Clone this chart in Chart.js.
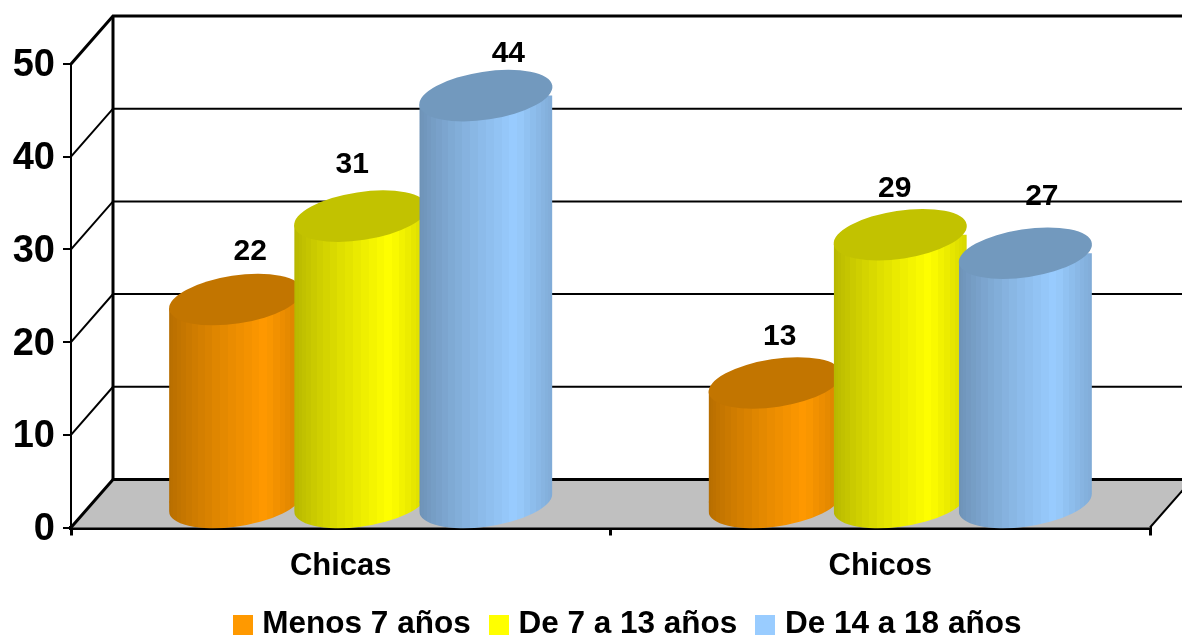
<!DOCTYPE html>
<html>
<head>
<meta charset="utf-8">
<style>html,body{margin:0;padding:0;background:#fff}#wrap{width:1182px;height:637px}</style>
<script src="https://cdn.jsdelivr.net/npm/chart.js@4/dist/chart.umd.min.js"></script>
</head>
<body>
<div id="wrap"><canvas id="c" width="1182" height="637"></canvas></div>
<script>
const categories = ['Chicas', 'Chicos'];
const seriesNames = ['Menos 7 años', 'De 7 a 13 años', 'De 14 a 18 años'];
const menos7 = [22, 13];
const de7a13 = [31, 29];
const de14a18 = [44, 27];
const axisMax = 50;
const axisStep = 10;

const baseColors = [[255, 153, 0], [255, 255, 0], [153, 204, 255]];
const topColors = ['#c27500', '#c2c200', '#7299be'];
const FONT = '"Liberation Sans", Arial, sans-serif';

/* perspective of the 3-D box */
const depthX = 42, depthY = 48;
const shiftX = 20, shiftY = 24;
const tilt = -0.15, minor = 24;

/* hand placement of the value labels, relative to each cylinder top */
const labelNudgeX = [[14.5, 4.5], [-8.5, -5.5], [22.5, 16.5]];
const labelNudgeY = [[-48, -46], [-51, -46], [-42, -56]];

function shade(c, k) { return 'rgb(' + c.map(v => Math.round(v * k)).join(',') + ')'; }
function brightness(f) {
  return f < 0.72 ? 0.71 + 0.29 * Math.pow(f / 0.72, 0.8) : 1 - 0.16 * ((f - 0.72) / 0.28);
}
function bandGradient(ctx, left, right, color) {
  const g = ctx.createLinearGradient(left, 0, right, 0);
  const n = 26;
  for (let i = 0; i < n; i++) {
    const a = (1 - Math.cos(Math.PI * i / n)) / 2;
    const b = (1 - Math.cos(Math.PI * (i + 1) / n)) / 2;
    const col = shade(color, brightness((a + b) / 2));
    g.addColorStop(a, col);
    g.addColorStop(b, col);
  }
  return g;
}
function barBox(chart, dsIndex, idx) {
  const x = chart.scales.x;
  const slot = x.width / categories.length;
  const step = slot * 0.6957 / 3;
  const w = step * 1.064;
  const cx = x.getPixelForValue(idx) + (dsIndex - 1) * step;
  return { left: cx - w / 2, right: cx + w / 2, width: w, cx };
}
function barFill(dsIndex) {
  return c => {
    if (c.type !== 'data' || !c.chart.scales.x || !Number.isFinite(c.dataIndex)) return shade(baseColors[dsIndex], 1);
    const b = barBox(c.chart, dsIndex, c.dataIndex);
    if (!Number.isFinite(b.left) || !Number.isFinite(b.right)) return shade(baseColors[dsIndex], 1);
    return bandGradient(c.chart.ctx, b.left, b.right, baseColors[dsIndex]);
  };
}
function extremes(w) {
  const major = w / 2 / Math.sqrt(Math.cos(tilt) ** 2 + (minor / (w / 2)) ** 2 * Math.sin(tilt) ** 2);
  const t0 = Math.atan2(-minor * Math.sin(tilt), major * Math.cos(tilt));
  const dy = major * Math.cos(t0) * Math.sin(tilt) + minor * Math.sin(t0) * Math.cos(tilt);
  return { major, t0, dy };
}

const box3d = {
  id: 'box3d',
  afterLayout(chart) {
    const lg = chart.legend;
    const h = lg.bottom - lg.top;
    lg.top = 585;
    lg.bottom = 585 + h;
    lg.left += 55;
    lg.right += 55;
  },
  beforeDatasetsDraw(chart) {
    const ctx = chart.ctx, xs = chart.scales.x, ys = chart.scales.y;
    const L = xs.left, R = xs.right, y0 = ys.getPixelForValue(0);
    /* floor */
    ctx.save();
    ctx.fillStyle = '#c0c0c0';
    ctx.beginPath();
    ctx.moveTo(L, y0); ctx.lineTo(L + depthX, y0 - depthY);
    ctx.lineTo(R + depthX, y0 - depthY); ctx.lineTo(R, y0); ctx.closePath();
    ctx.fill();
    ctx.strokeStyle = '#000';
    ctx.lineWidth = 2;
    ctx.beginPath();
    ctx.moveTo(R, y0); ctx.lineTo(R + depthX, y0 - depthY);
    ctx.stroke();
    /* side and back walls */
    for (let v = 0; v <= axisMax; v += axisStep) {
      const y = ys.getPixelForValue(v);
      ctx.lineWidth = (v === 0 || v === axisMax) ? 3 : 2;
      ctx.beginPath();
      ctx.moveTo(L, y); ctx.lineTo(L + depthX, y - depthY); ctx.lineTo(R + depthX, y - depthY);
      ctx.stroke();
    }
    ctx.lineWidth = 3;
    ctx.beginPath();
    ctx.moveTo(L + depthX, ys.getPixelForValue(axisMax) - depthY);
    ctx.lineTo(L + depthX, y0 - depthY);
    ctx.stroke();
    ctx.restore();

    /* cylinders, painted in series order so later series overlap earlier ones */
    chart.data.datasets.forEach((ds, i) => {
      const meta = chart.getDatasetMeta(i);
      ctx.save();
      ctx.translate(shiftX, -shiftY);
      ctx.save();
      ctx.beginPath();
      meta.data.forEach(el => {
        const w = el.width, e = extremes(w);
        ctx.moveTo(el.x + w / 2, el.base + e.dy);
        ctx.ellipse(el.x, el.base, e.major, minor, tilt, e.t0, e.t0 + Math.PI);
        ctx.lineTo(el.x - w / 2, el.y - e.dy);
        ctx.lineTo(el.x + w / 2, el.y + e.dy);
        ctx.closePath();
      });
      ctx.clip();
      meta.data.forEach(el => {
        ctx.fillStyle = el.options.backgroundColor;
        ctx.fillRect(el.x - el.width / 2, el.base - 1, el.width, minor + 6);
      });
      meta.controller.draw();
      ctx.restore();
      meta.data.forEach(el => {
        const e = extremes(el.width);
        ctx.fillStyle = topColors[i];
        ctx.beginPath();
        ctx.ellipse(el.x, el.y, e.major, minor, tilt, 0, Math.PI * 2);
        ctx.fill();
      });
      ctx.restore();
    });

    /* value labels */
    ctx.save();
    ctx.fillStyle = '#000';
    ctx.font = 'bold 30px ' + FONT;
    ctx.textAlign = 'center';
    ctx.textBaseline = 'middle';
    chart.data.datasets.forEach((ds, i) => {
      chart.getDatasetMeta(i).data.forEach((el, j) => {
        ctx.fillText(String(ds.data[j]),
          el.x + shiftX + labelNudgeX[i][j],
          el.y - shiftY + labelNudgeY[i][j]);
      });
    });
    ctx.restore();
    return false;
  }
};

const swatches = baseColors.map(c => {
  const s = document.createElement('canvas');
  s.width = 20; s.height = 20;
  const g = s.getContext('2d');
  g.fillStyle = shade(c, 1);
  g.fillRect(0, 0, 20, 20);
  return s;
});

new Chart(document.getElementById('c'), {
  type: 'bar',
  plugins: [box3d],
  data: {
    labels: categories,
    datasets: [menos7, de7a13, de14a18].map((values, i) => ({
      label: seriesNames[i],
      data: values,
      backgroundColor: barFill(i),
      borderWidth: 0,
      categoryPercentage: 0.6957,
      barPercentage: 1.064
    }))
  },
  options: {
    responsive: false,
    animation: false,
    layout: { padding: { top: 64, right: 32, left: 0, bottom: -20 } },
    plugins: {
      tooltip: { enabled: false },
      legend: {
        position: 'bottom',
        onClick: null,
        labels: {
          usePointStyle: true,
          pointStyleWidth: 8,
          boxHeight: 20,
          padding: 24,
          color: '#000',
          font: { family: FONT, size: 31.5, weight: 'bold' },
          generateLabels(chart) {
            return Chart.defaults.plugins.legend.labels.generateLabels(chart)
              .map((l, i) => Object.assign(l, { pointStyle: swatches[i] }));
          }
        }
      }
    },
    scales: {
      x: {
        afterFit(s) { s.height = 64; },
        grid: { offset: true, drawOnChartArea: false, color: '#000', lineWidth: 3, tickLength: 8 },
        border: { color: '#000', width: 4 },
        ticks: { color: '#000', padding: 12, maxRotation: 0, font: { family: FONT, size: 31, weight: 'bold' } }
      },
      y: {
        min: 0,
        max: axisMax,
        afterFit(s) { s.width = 71; },
        grid: { drawOnChartArea: false, color: '#000', lineWidth: 2, tickLength: 8 },
        border: { color: '#000', width: 2 },
        ticks: { stepSize: axisStep, color: '#000', padding: 8, labelOffset: 2, font: { family: FONT, size: 38, weight: 'bold' } }
      }
    }
  }
});
</script>
</body>
</html>
